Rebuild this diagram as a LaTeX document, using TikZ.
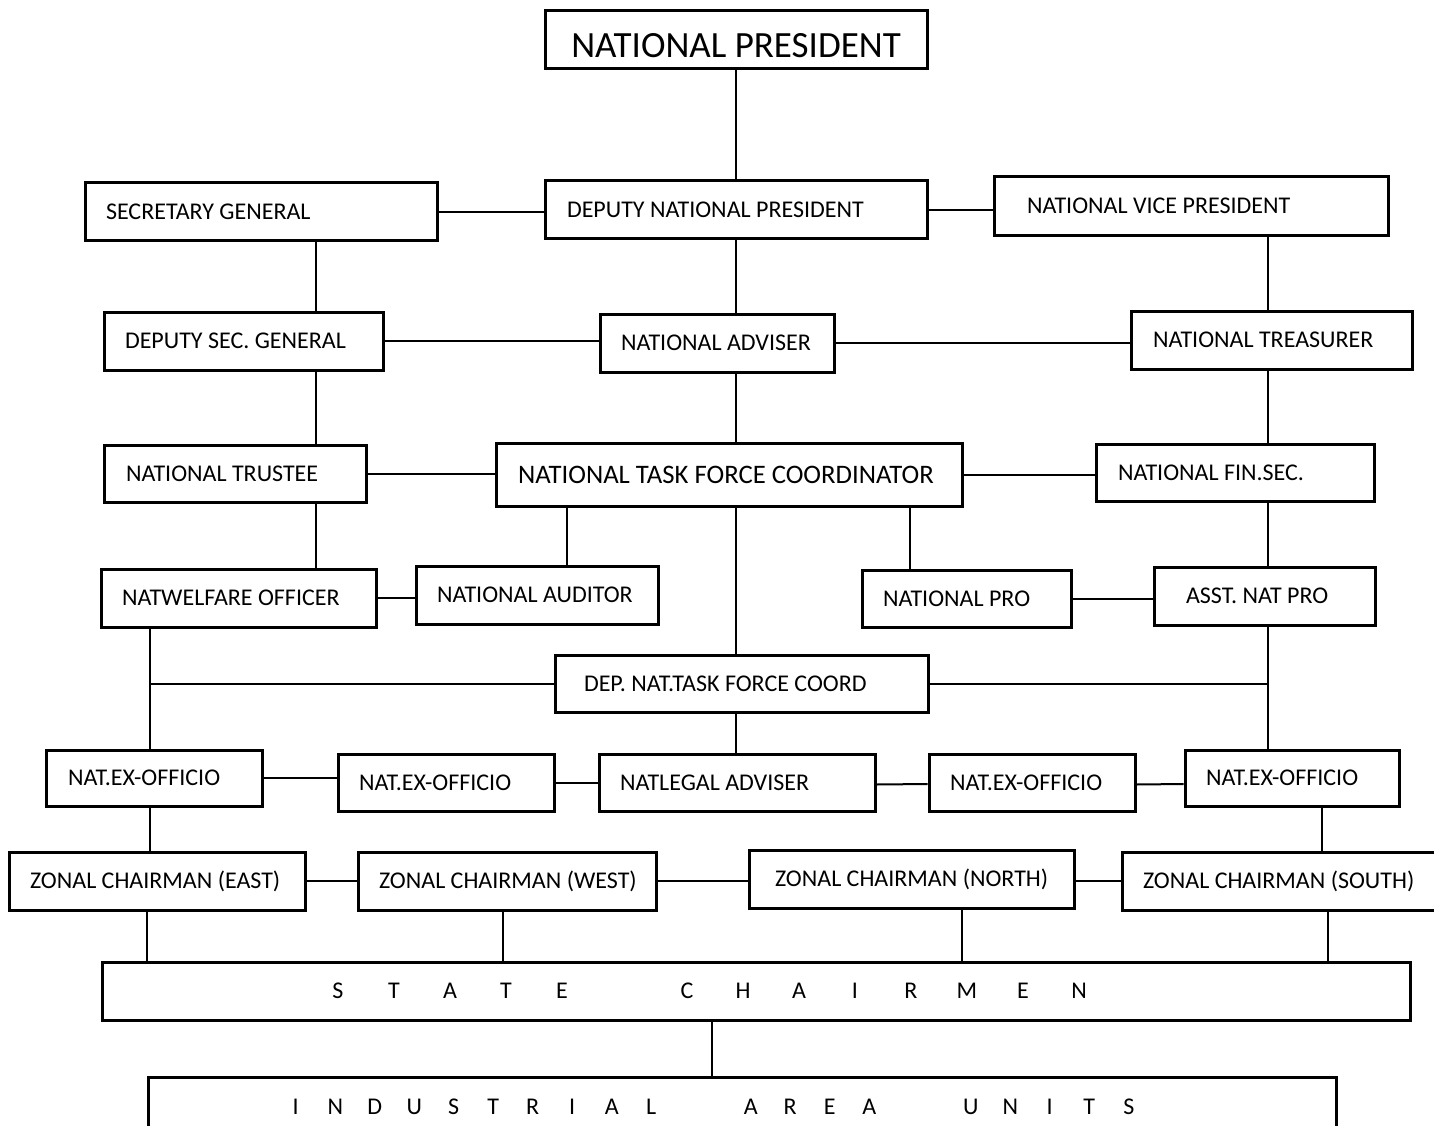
\documentclass[tikz,border=0pt]{standalone}
\usepackage{fontspec}
\setmainfont{Carlito}
% #1 name, #2 cx, #3 cy, #4 width, #5 height, #6 left inset, #7 text
\newcommand\orgbox[7]{\node[orgb, minimum height=#5pt] (#1) at (#2,#3) {\makebox[#4pt][l]{\hspace{#6pt}#7}};}
\newcommand\ls[1]{\makebox[56pt][c]{#1}}
\newcommand\li[1]{\makebox[39.5pt][c]{#1}}
\begin{document}
\begin{tikzpicture}[x=1pt,y=-1pt,
  orgb/.style={draw, line width=3pt, inner sep=0pt, fill=white, font=\fontsize{24}{28}\selectfont},
  link/.style={line width=2pt}]
\clip (0,0) rectangle (1434,1126);
\fill[white] (0,0) rectangle (1434,1126);
% coordinates for vertical connector x positions
\foreach \xx in {147,150,316,503,567,712,736,910,962,1268,1322,1328}{\coordinate (v\xx) at (\xx,0);}
% boxes
\node[orgb, minimum height=58pt, text height=36pt, text depth=0pt, font=\fontsize{37}{42}\selectfont] (NP) at (736,40) {\makebox[382pt][c]{NATIONAL PRESIDENT}};
\orgbox{SG}{261}{211.5}{352}{57}{21}{SECRETARY GENERAL}
\orgbox{DNP}{736}{209.5}{382}{57}{22}{DEPUTY NATIONAL PRESIDENT}
\orgbox{NVP}{1191}{206}{394}{58}{33}{NATIONAL VICE PRESIDENT}
\orgbox{DSG}{243.5}{341}{279}{58}{21}{DEPUTY SEC. GENERAL}
\orgbox{NA}{717}{343}{234}{58}{21}{NATIONAL ADVISER}
\orgbox{NT}{1271.5}{340}{281}{58}{22}{NATIONAL TREASURER}
\orgbox{NTr}{235}{473.5}{262}{57}{22}{NATIONAL TRUSTEE}
\node[orgb, minimum height=63pt, font=\fontsize{26.7}{30}\selectfont] (NTFC) at (729,474.5) {\makebox[466pt][l]{\hspace{22pt}NATIONAL TASK FORCE COORDINATOR}};
\orgbox{NFS}{1235}{472.5}{278}{57}{22}{NATIONAL FIN.SEC.}
\orgbox{NWO}{238.5}{598}{275}{58}{21}{NATWELFARE OFFICER}
\orgbox{NAud}{537}{595}{242}{58}{21}{NATIONAL AUDITOR}
\orgbox{NPRO}{966.5}{598.5}{209}{57}{21}{NATIONAL PRO}
\orgbox{ANP}{1264.5}{596}{221}{58}{32}{ASST. NAT PRO}
\orgbox{DNTFC}{741.5}{683.5}{373}{57}{29}{DEP. NAT.TASK FORCE COORD}
\orgbox{EXa}{154}{778}{216}{56}{22}{NAT.EX-OFFICIO}
\orgbox{EXb}{446}{782.5}{216}{57}{21}{NAT.EX-OFFICIO}
\orgbox{NLA}{737}{782.5}{276}{57}{21}{NATLEGAL ADVISER}
\orgbox{EXc}{1032}{782.5}{206}{57}{21}{NAT.EX-OFFICIO}
\orgbox{EXd}{1292}{778}{214}{56}{21}{NAT.EX-OFFICIO}
\orgbox{ZE}{157}{881}{296}{58}{21}{ZONAL CHAIRMAN (EAST)}
\orgbox{ZW}{507}{881}{298}{58}{21}{ZONAL CHAIRMAN (WEST)}
\orgbox{ZN}{911.5}{879}{325}{58}{26}{ZONAL CHAIRMAN (NORTH)}
\orgbox{ZS}{1291}{881}{338}{58}{21}{ZONAL CHAIRMAN (SOUTH)}
\orgbox{SC}{756}{991}{1308}{58}{208}{\ls{S}\ls{T}\ls{A}\ls{T}\ls{E}\hspace{69pt}\ls{C}\ls{H}\ls{A}\ls{I}\ls{R}\ls{M}\ls{E}\ls{N}}
\orgbox{IAU}{742}{1107}{1188}{60}{128}{\li{I}\li{N}\li{D}\li{U}\li{S}\li{T}\li{R}\li{I}\li{A}\li{L}\hspace{60pt}\li{A}\li{R}\li{E}\li{A}\hspace{62pt}\li{U}\li{N}\li{I}\li{T}\li{S}}
% connectors
\begin{scope}[link]
\draw (NP.south) -- (DNP.north);
\draw (SG.east) -- (SG.east -| DNP.west);
\draw (DNP.east) -- (DNP.east -| NVP.west);
\draw (SG.south -| v316) -- (DSG.north -| v316);
\draw (DNP.south) -- (NA.north -| v736);
\draw (NVP.south -| v1268) -- (NT.north -| v1268);
\draw (DSG.east) -- (DSG.east -| NA.west);
\draw (NA.east) -- (NA.east -| NT.west);
\draw (DSG.south -| v316) -- (NTr.north -| v316);
\draw (NA.south -| v736) -- (NTFC.north -| v736);
\draw (NT.south -| v1268) -- (NFS.north -| v1268);
\draw (NTr.east) -- (NTr.east -| NTFC.west);
\draw (NTFC.east) -- (NTFC.east -| NFS.west);
\draw (NTr.south -| v316) -- (NWO.north -| v316);
\draw (NTFC.south -| v567) -- (NAud.north -| v567);
\draw (NTFC.south -| v910) -- (NPRO.north -| v910);
\draw (NTFC.south -| v736) -- (DNTFC.north -| v736);
\draw (NFS.south -| v1268) -- (ANP.north -| v1268);
\draw (NWO.east) -- (NWO.east -| NAud.west);
\draw (NPRO.east) -- (NPRO.east -| ANP.west);
\draw (NWO.south -| v150) -- (EXa.north -| v150);
\draw (DNTFC.west -| v150) -- (DNTFC.west);
\draw (ANP.south -| v1268) -- (EXd.north -| v1268);
\draw (DNTFC.east) -- (DNTFC.east -| v1268);
\draw (DNTFC.south -| v736) -- (NLA.north -| v736);
\draw (EXa.east) -- (EXa.east -| EXb.west);
\draw (EXb.east) -- (EXb.east -| NLA.west);
\draw (NLA.east) ++(0,2) -- (EXc.west |- 0,784);
\draw (EXc.east) ++(0,2) -- (EXd.west |- 0,784);
\draw (EXa.south -| v150) -- (ZE.north -| v150);
\draw (EXd.south -| v1322) -- (ZS.north -| v1322);
\draw (ZE.east) -- (ZE.east -| ZW.west);
\draw (ZW.east) -- (ZW.east -| ZN.west);
\draw (ZN.east) ++(0,2) -- (ZS.west);
\draw (ZE.south -| v147) -- (SC.north -| v147);
\draw (ZW.south -| v503) -- (SC.north -| v503);
\draw (ZN.south -| v962) -- (SC.north -| v962);
\draw (ZS.south -| v1328) -- (SC.north -| v1328);
\draw (SC.south -| v712) -- (IAU.north -| v712);
\end{scope}
\end{tikzpicture}
\end{document}
